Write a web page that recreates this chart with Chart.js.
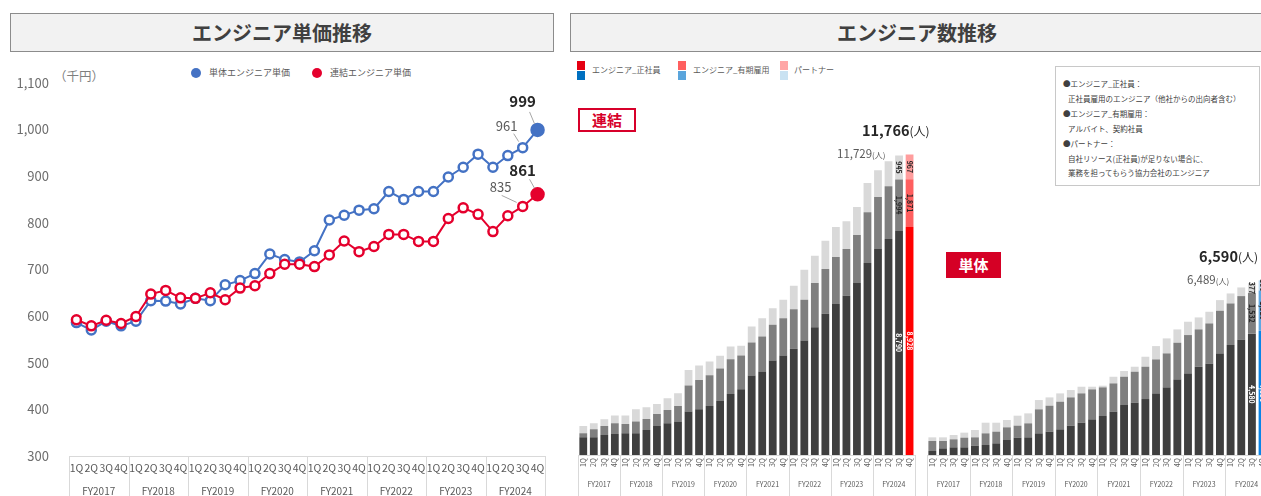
<!DOCTYPE html>
<html lang="ja">
<head>
<meta charset="utf-8">
<title>エンジニア単価推移・エンジニア数推移</title>
<script src="https://cdn.jsdelivr.net/npm/chart.js@4.4.1/dist/chart.umd.min.js"></script>
<style>
  html, body { margin: 0; padding: 0; background: #fff; }
  body { width: 1261px; height: 496px; overflow: hidden; position: relative;
         font-family: "Noto Sans CJK JP", "Noto Sans", sans-serif; color: #404040; }
  canvas { position: absolute; }
  .title { position: absolute; top: 13px; height: 39px; box-sizing: border-box;
           background: #f2f2f2; border: 1px solid #8c8c8c; text-align: center;
           font-size: 20px; font-weight: bold; line-height: 37px; color: #404040; }
  .txt { position: absolute; white-space: nowrap; }
  .dot { position: absolute; width: 10px; height: 10px; border-radius: 50%; }
  .sq { position: absolute; width: 8px; height: 9px; }
  .note { position: absolute; left: 1055px; top: 66px; width: 205px; height: 120px;
          box-sizing: border-box; border: 1px solid #c8c8c8; font-size: 7.5px; color: #404040; }
  .note div { position: absolute; white-space: nowrap; }
</style>
</head>
<body>

<div class="title" style="left:10px;width:544px;">エンジニア単価推移</div>
<div class="title" style="left:570px;width:694px;">エンジニア数推移</div>

<!-- left chart legend / unit -->
<div class="txt" style="left:54px;top:66px;font-size:12.5px;color:#7f7f7f;">（千円）</div>
<div class="dot" style="left:191px;top:68px;background:#4472c4;"></div>
<div class="txt" style="left:209px;top:66px;font-size:9px;color:#595959;">単体エンジニア単価</div>
<div class="dot" style="left:312px;top:68px;background:#e5002d;"></div>
<div class="txt" style="left:330px;top:66px;font-size:9px;color:#595959;">連結エンジニア単価</div>

<!-- right chart legend -->
<div class="sq" style="left:577px;top:61px;background:#e50012;"></div>
<div class="sq" style="left:577px;top:71px;background:#0070c0;"></div>
<div class="txt" style="left:592px;top:64px;font-size:8px;color:#595959;">エンジニア_正社員</div>
<div class="sq" style="left:678px;top:61px;background:#ff5f5f;"></div>
<div class="sq" style="left:678px;top:71px;background:#5aa5dc;"></div>
<div class="txt" style="left:693px;top:64px;font-size:8px;color:#595959;">エンジニア_有期雇用</div>
<div class="sq" style="left:780px;top:61px;background:#ffa6a6;"></div>
<div class="sq" style="left:780px;top:71px;background:#c9e2f2;"></div>
<div class="txt" style="left:794px;top:64px;font-size:8px;color:#595959;">パートナー</div>

<div class="note">
  <div style="left:7px;top:11px;">●エンジニア_正社員：</div>
  <div style="left:12px;top:26px;">正社員雇用のエンジニア（他社からの出向者含む）</div>
  <div style="left:7px;top:41px;">●エンジニア_有期雇用：</div>
  <div style="left:12px;top:56px;">アルバイト、契約社員</div>
  <div style="left:7px;top:71px;">●パートナー：</div>
  <div style="left:12px;top:86px;">自社リソース(正社員)が足りない場合に、</div>
  <div style="left:12px;top:100px;">業務を担ってもらう協力会社のエンジニア</div>
</div>

<canvas id="priceChart" width="560" height="450" style="left:0;top:55px;"></canvas>
<canvas id="consolChart" width="346" height="400" style="left:575px;top:100px;"></canvas>
<canvas id="singleChart" width="348" height="400" style="left:926px;top:100px;"></canvas>

<div class="txt" style="left:578px;top:108px;width:58px;height:24px;box-sizing:border-box;border:2px solid #d7002a;background:#fff;color:#d7002a;font-size:15px;font-weight:bold;text-align:center;line-height:20px;">連結</div>
<div class="txt" style="left:946px;top:252px;width:55px;height:26px;background:#d50025;color:#fff;font-size:15px;font-weight:bold;text-align:center;line-height:26px;">単体</div>

<div class="txt" style="left:862px;top:117px;color:#262626;"><b style="font-size:14.5px;">11,766</b><span style="font-size:12px;">(人)</span></div>
<div class="txt" style="left:837px;top:139px;color:#595959;"><span style="font-size:11.5px;">11,729</span><span style="font-size:8px;">(人)</span></div>
<div class="txt" style="left:1199px;top:243px;color:#262626;"><b style="font-size:14.5px;">6,590</b><span style="font-size:12px;">(人)</span></div>
<div class="txt" style="left:1187px;top:265px;color:#595959;"><span style="font-size:11.5px;">6,489</span><span style="font-size:8px;">(人)</span></div>

<script>
const FONT = '"Noto Sans CJK JP", "Noto Sans", sans-serif';

// categories
const fiscalYears = ['FY2017', 'FY2018', 'FY2019', 'FY2020', 'FY2021', 'FY2022', 'FY2023', 'FY2024'];
const quarterNames = ['1Q', '2Q', '3Q', '4Q'];

// engineer unit price (thousand yen)
const unitPriceSingle = [586, 570, 589, 579, 589, 633, 632, 626, 638, 633, 667, 676, 691, 733, 721, 716,
                         740, 806, 816, 827, 830, 867, 850, 867, 867, 898, 919, 947, 919, 944, 961, 999];
const unitPriceConsol = [592, 579, 591, 584, 599, 647, 655, 639, 638, 650, 635, 660, 665, 691, 711, 711,
                         706, 731, 761, 738, 749, 775, 775, 760, 760, 809, 832, 818, 781, 815, 835, 861];

// engineer headcount - consolidated
const consolFull = [693, 693, 784, 823, 850, 850, 980, 1137, 1242, 1307, 1699, 1791, 1921, 2117, 2392, 2575,
                    3111, 3268, 3699, 3895, 4156, 4483, 5006, 5529, 5908, 6234, 6731, 7515, 8064, 8456, 8790, 8928];
const consolFixed = [157, 314, 353, 418, 366, 457, 431, 471, 523, 614, 1019, 1150, 1202, 1268, 1359, 1320,
                     1294, 1372, 1398, 1464, 1555, 1595, 1725, 1751, 1843, 1830, 1882, 1987, 2039, 2065, 1994, 1871];
const consolPartner = [288, 235, 261, 301, 327, 484, 457, 392, 457, 497, 614, 562, 536, 497, 497, 379,
                       627, 719, 654, 719, 915, 1176, 1072, 1111, 1176, 1085, 1098, 1150, 1046, 980, 945, 967];

// engineer headcount - standalone
const singleFull = [151, 251, 289, 289, 352, 377, 440, 566, 654, 666, 817, 880, 968, 1106, 1219, 1345,
                    1471, 1634, 1886, 1973, 2112, 2325, 2552, 2853, 3080, 3331, 3457, 3834, 4148, 4362, 4580, 4690];
const singleFixed = [377, 277, 302, 365, 314, 440, 440, 478, 453, 528, 905, 980, 1043, 1068, 1106, 1131,
                     1081, 1068, 1068, 1169, 1219, 1282, 1282, 1383, 1446, 1408, 1508, 1609, 1571, 1634, 1532, 1520];
const singlePartner = [138, 138, 163, 189, 277, 402, 339, 277, 377, 377, 352, 314, 314, 277, 251, 101,
                       63, 251, 214, 189, 377, 503, 566, 503, 503, 453, 440, 402, 377, 327, 377, 380];

const categories = fiscalYears.flatMap(() => quarterNames);
const LAST = categories.length - 1;

// lines under the x axis: baseline + separators between fiscal years
const groupLines = {
  id: 'groupLines',
  afterDraw(chart, args, opts) {
    const { ctx, chartArea } = chart;
    const x = chart.scales.x;
    const n = x.ticks.length;
    ctx.save();
    ctx.strokeStyle = opts.color;
    ctx.lineWidth = 1;
    ctx.beginPath();
    ctx.moveTo(chartArea.left, Math.round(chartArea.bottom) + 0.5);
    ctx.lineTo(chartArea.right, Math.round(chartArea.bottom) + 0.5);
    for (let i = 0; i <= n; i += 4) {
      let px;
      if (i === 0) px = chartArea.left;
      else if (i === n) px = chartArea.right;
      else px = (x.getPixelForTick(i - 1) + x.getPixelForTick(i)) / 2;
      px = Math.round(px) + 0.5;
      ctx.moveTo(px, chartArea.bottom);
      ctx.lineTo(px, chart.height);
    }
    ctx.stroke();
    ctx.restore();
  }
};

// value labels next to the latest points
const endLabels = {
  id: 'endLabels',
  afterDatasetsDraw(chart, args, opts) {
    const { ctx } = chart;
    opts.items.forEach(it => {
      const pt = chart.getDatasetMeta(it.ds).data[it.index];
      const v = chart.data.datasets[it.ds].data[it.index];
      ctx.save();
      ctx.strokeStyle = '#a6a6a6';
      ctx.lineWidth = 1;
      ctx.beginPath();
      ctx.moveTo(pt.x + it.l1[0], pt.y + it.l1[1]);
      ctx.lineTo(pt.x + it.l2[0], pt.y + it.l2[1]);
      ctx.stroke();
      ctx.font = (it.bold ? 'bold 15px ' : '13px ') + FONT;
      ctx.fillStyle = it.bold ? '#262626' : '#595959';
      ctx.textAlign = 'center';
      ctx.textBaseline = 'middle';
      ctx.fillText(v, pt.x + it.dx, pt.y + it.dy);
      ctx.restore();
    });
  }
};

// rotated value labels inside the latest two bars
const segLabels = {
  id: 'segLabels',
  afterDatasetsDraw(chart, args, opts) {
    const { ctx } = chart;
    chart.data.datasets.forEach((ds, di) => {
      const meta = chart.getDatasetMeta(di);
      opts.indices.forEach(i => {
        const bar = meta.data[i];
        ctx.save();
        ctx.translate(bar.x, (bar.y + bar.base) / 2);
        ctx.rotate(Math.PI / 2);
        ctx.font = 'bold 7px ' + FONT;
        ctx.fillStyle = opts.colors[di];
        ctx.textAlign = 'center';
        ctx.textBaseline = 'middle';
        ctx.fillText(ds.data[i].toLocaleString('en-US'), 0, 0);
        ctx.restore();
      });
    });
  }
};

const BLUE = '#4472c4';
const RED = '#e5002d';

function lineSet(label, data, color, order) {
  return {
    label: label,
    data: data,
    order: order,
    borderColor: color,
    borderWidth: 2,
    tension: 0,
    pointRadius: c => c.dataIndex === LAST ? 6 : 4.5,
    pointBorderWidth: 2.5,
    pointBorderColor: color,
    pointBackgroundColor: c => c.dataIndex === LAST ? color : '#ffffff'
  };
}

new Chart(document.getElementById('priceChart'), {
  type: 'line',
  data: {
    labels: categories,
    datasets: [
      lineSet('単体エンジニア単価', unitPriceSingle, BLUE, 1),
      lineSet('連結エンジニア単価', unitPriceConsol, RED, 0)
    ]
  },
  options: {
    responsive: false,
    animation: false,
    layout: { padding: { top: 17, right: 15, left: 0, bottom: 0 } },
    plugins: {
      legend: { display: false },
      tooltip: { enabled: false },
      groupLines: { color: '#d9d9d9' },
      endLabels: {
        items: [
          { ds: 0, index: 31, dx: -15, dy: -29, bold: true, l1: [-8, -18], l2: [-3, -6] },
          { ds: 0, index: 30, dx: -16, dy: -22, bold: false, l1: [-9, -14], l2: [-4, -6] },
          { ds: 1, index: 31, dx: -15, dy: -24, bold: true, l1: [-8, -15], l2: [-3, -6] },
          { ds: 1, index: 30, dx: -22, dy: -19, bold: false, l1: [-21, -11], l2: [-6, -4] }
        ]
      }
    },
    scales: {
      x: {
        offset: true,
        grid: { display: false, drawTicks: false },
        border: { display: false },
        ticks: { autoSkip: false, maxRotation: 0, minRotation: 0, padding: 6, color: '#595959',
                 font: { size: 10.5, family: FONT } },
        afterFit: s => { s.height = 24; }
      },
      fy: {
        type: 'category',
        labels: fiscalYears,
        position: 'bottom',
        offset: true,
        weight: 1,
        grid: { display: false, drawTicks: false },
        border: { display: false },
        ticks: { padding: 5, color: '#595959', font: { size: 10, family: FONT } },
        afterFit: s => { s.height = 25; }
      },
      y: {
        min: 300,
        max: 1100,
        grid: { display: false, drawTicks: false },
        border: { display: false },
        ticks: { stepSize: 100, padding: 20, color: '#6d6d6d', font: { size: 13, family: FONT },
                 callback: v => v.toLocaleString('en-US') },
        afterFit: s => { s.width = 69; }
      }
    }
  },
  plugins: [groupLines, endLabels]
});

const GRAYS = ['#3f3f3f', '#7f7f7f', '#d9d9d9'];

function barChart(id, series, names, lastColors, maxY, padding) {
  const datasets = series.map((data, k) => ({
    label: names[k],
    data: data,
    backgroundColor: data.map((v, i) => i === LAST ? lastColors[k] : GRAYS[k]),
    barPercentage: 0.74,
    categoryPercentage: 1
  }));
  return new Chart(document.getElementById(id), {
    type: 'bar',
    data: { labels: categories, datasets: datasets },
    options: {
      responsive: false,
      animation: false,
      layout: { padding: padding },
      plugins: {
        legend: { display: false },
        tooltip: { enabled: false },
        groupLines: { color: '#d9d9d9' },
        segLabels: { indices: [LAST - 1, LAST], colors: ['#ffffff', '#262626', '#262626'] }
      },
      scales: {
        x: {
          stacked: true,
          grid: { display: false, drawTicks: false },
          border: { display: false },
          ticks: { autoSkip: false, minRotation: 90, maxRotation: 90, padding: 3, color: '#595959',
                   font: { size: 7, family: FONT } },
          afterFit: s => { s.height = 22; }
        },
        fy: {
          type: 'category',
          labels: fiscalYears,
          position: 'bottom',
          offset: true,
          weight: 1,
          grid: { display: false, drawTicks: false },
          border: { display: false },
          ticks: { padding: 3, color: '#595959', font: { size: 7, family: FONT } },
          afterFit: s => { s.height = 23; }
        },
        y: { stacked: true, display: false, min: 0, max: maxY }
      }
    },
    plugins: [groupLines, segLabels]
  });
}

const seriesNames = ['エンジニア_正社員', 'エンジニア_有期雇用', 'パートナー'];

barChart('consolChart', [consolFull, consolFixed, consolPartner], seriesNames,
         ['#ff0000', '#ff5f5f', '#ff9d9d'], 13000, { top: 23, left: 3, right: 2, bottom: 0 });

barChart('singleChart', [singleFull, singleFixed, singlePartner], seriesNames,
         ['#0a84e6', '#5fa8e3', '#bcd9f0'], 8000, { top: 143, left: 1, right: 3, bottom: 0 });
</script>
</body>
</html>
